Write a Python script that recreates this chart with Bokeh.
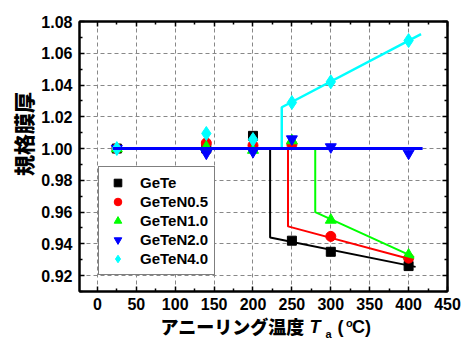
import numpy as np
from bokeh.plotting import figure
from bokeh.models import LinearAxis, FixedTicker, Legend, LegendItem
from bokeh.core.properties import value
from bokeh.embed import file_html
from bokeh.resources import INLINE

# ---------------- data ----------------
temps = [25, 140, 200, 250, 300, 400]
gete = [1.000, 1.000, 1.008, 0.942, 0.935, 0.926]
gete_n05 = [1.000, 1.0035, 1.002, 1.0025, 0.9447, 0.931]
gete_n10 = [1.000, 1.001, 0.999, 1.005, 0.955, 0.933]
gete_n20 = [1.000, 0.997, 0.998, 1.006, 1.001, 0.997]
gete_n40 = [1.000, 1.0095, 1.0057, 1.029, 1.042, 1.068]

# fitted step / linear lines
fit_gete_x = [20, 222, 222, 409]
fit_gete_y = [1.000, 1.000, 0.944, 0.9255]
fit_n05_x = [20, 245, 245, 405]
fit_n05_y = [1.000, 1.000, 0.951, 0.930]
fit_n10_x = [20, 280, 280, 407]
fit_n10_y = [1.000, 1.000, 0.960, 0.9316]
fit_n20_x = [20, 418]
fit_n20_y = [1.000, 1.000]
fit_n40_x = [20, 237, 237, 416]
fit_n40_y = [1.000, 1.000, 1.026, 1.072]

series_names = ["GeTe", "GeTeN0.5", "GeTeN1.0", "GeTeN2.0", "GeTeN4.0"]

x_ticks = [0, 50, 100, 150, 200, 250, 300, 350, 400, 450]
x_tick_labels = ["0", "50", "100", "150", "200", "250", "300", "350", "400", "450"]
y_ticks = [0.92, 0.94, 0.96, 0.98, 1.00, 1.02, 1.04, 1.06, 1.08]
y_tick_labels = ["0.92", "0.94", "0.96", "0.98", "1.00", "1.02", "1.04", "1.06", "1.08"]

y_title = "規格膜厚"
x_title_main = "アニーリング温度"

X_RANGE = (-23, 450)
Y_RANGE = (0.91, 1.08)

CJK_FONT = "'Noto Sans CJK JP Black', 'Noto Sans CJK JP'"

# ---------------- figure ----------------
FL, FT, FW, FH = 79, 21, 368, 270   # frame left/top/width/height in px
p = figure(frame_width=FW, frame_height=FH, x_range=X_RANGE, y_range=Y_RANGE,
           output_backend="svg", toolbar_location=None,
           min_border_left=FL, min_border_right=14, min_border_top=FT, min_border_bottom=47,
           background_fill_color="white", border_fill_color="white")
p.outline_line_color = "black"
p.outline_line_width = 2

x_minor = list((np.array(x_ticks[:-1]) + np.array(x_ticks[1:])) / 2)
y_minor = list((np.array(y_ticks[:-1]) + np.array(y_ticks[1:])) / 2) + [y_ticks[0] - 0.01]
xt = FixedTicker(ticks=x_ticks, minor_ticks=x_minor)
yt = FixedTicker(ticks=y_ticks, minor_ticks=y_minor)

def style_axis(ax, show_labels):
    ax.axis_line_color = "black"
    ax.axis_line_width = 2
    ax.major_tick_in = 5
    ax.major_tick_out = 0
    ax.minor_tick_in = 3
    ax.minor_tick_out = 0
    ax.major_tick_line_width = 1.5
    ax.minor_tick_line_width = 1.5
    ax.major_tick_line_color = "black"
    ax.minor_tick_line_color = "black"
    if show_labels:
        ax.major_label_text_font = "Liberation Sans"
        ax.major_label_text_font_style = "bold"
        ax.major_label_text_font_size = "16px"
        ax.major_label_text_color = "black"
    else:
        ax.major_label_text_font_size = "0px"
        ax.major_label_text_alpha = 0
        ax.major_label_standoff = 0

p.xaxis.ticker = xt
p.yaxis.ticker = yt
p.xaxis.major_label_overrides = {t: l for t, l in zip(x_ticks, x_tick_labels)}
p.yaxis.major_label_overrides = {t: l for t, l in zip(y_ticks, y_tick_labels)}
style_axis(p.xaxis[0], True)
style_axis(p.yaxis[0], True)
p.xaxis.major_label_standoff = 6
p.yaxis.major_label_standoff = 7

top_ax = LinearAxis(ticker=xt)
right_ax = LinearAxis(ticker=yt)
style_axis(top_ax, False)
style_axis(right_ax, False)
top_ax.major_label_overrides = {t: "" for t in x_ticks}
right_ax.major_label_overrides = {t: "" for t in y_ticks}
p.add_layout(top_ax, "above")
p.add_layout(right_ax, "right")

p.xgrid.ticker = xt
p.ygrid.ticker = yt
for g in (p.xgrid[0], p.ygrid[0]):
    g.grid_line_color = "#888888"
    g.grid_line_dash = "4 3"
    g.grid_line_width = 1

# ---------------- markers ----------------
r0 = p.scatter(temps, gete, marker="square", size=9, color="#000000")
r1 = p.scatter(temps, gete_n05, marker="circle", size=10, color="#FF0000")
r2 = p.scatter(temps, gete_n10, marker="triangle", size=11, color="#00FF00")
r3 = p.scatter(temps, gete_n20, marker="inverted_triangle", size=11, color="#0000FF")
r4 = p.scatter(temps, gete_n40, marker="diamond", size=14, color="#00FFFF")

# ---------------- fit lines ----------------
p.line(fit_gete_x, fit_gete_y, color="#000000", line_width=2)
p.line(fit_n05_x, fit_n05_y, color="#FF0000", line_width=2)
p.line(fit_n10_x, fit_n10_y, color="#00FF00", line_width=2)
p.line(fit_n40_x, fit_n40_y, color="#00FFFF", line_width=2.5)
p.line(fit_n20_x, fit_n20_y, color="#0000FF", line_width=3)

# ---------------- legend ----------------
legend = Legend(items=[LegendItem(label=n, renderers=[r]) for n, r in
                       zip(series_names, [r0, r1, r2, r3, r4])],
                location=(19, 16))
legend.label_text_font = "Liberation Sans"
legend.label_text_font_style = "bold"
legend.label_text_font_size = "15px"
legend.label_text_color = "black"
legend.glyph_width = 25
legend.glyph_height = 19
legend.label_height = 19
legend.spacing = 0
legend.padding = 6
legend.margin = 0
legend.label_standoff = 10
legend.border_line_color = "black"
legend.border_line_width = 1
legend.background_fill_color = "white"
legend.background_fill_alpha = 1
p.add_layout(legend, "center")

# ---------------- titles (text glyphs drawn outside the frame) ----------------
def dx(px):
    return X_RANGE[0] + (px - FL) / FW * (X_RANGE[1] - X_RANGE[0])

def dy(py):
    return Y_RANGE[1] - (py - FT) / FH * (Y_RANGE[1] - Y_RANGE[0])

def title_text(text, px, py, size, font, style="bold", angle=0, align="left", baseline="middle"):
    p.text(x=[dx(px)], y=[dy(py)], text=[text], text_font=value(font),
           text_font_size=value(size), text_font_style=style, angle=angle,
           text_align=align, text_baseline=baseline, text_color="black",
           level="annotation")

title_text(y_title, 22, 133.5, "21px", CJK_FONT, angle=np.pi / 2, align="center")
title_text(x_title_main, 160, 325, "18px", CJK_FONT)
title_text("T", 309, 326, "18px", "Liberation Sans", style="bold italic")
title_text("a", 325, 333, "11px", "Liberation Sans")
title_text("(", 337, 326, "18px", "Liberation Sans")
title_text("o", 345.5, 322.5, "11px", "Liberation Sans")
title_text("C)", 351.5, 326, "18px", "Liberation Sans")

open("out.html", "w").write(file_html(p, INLINE))
